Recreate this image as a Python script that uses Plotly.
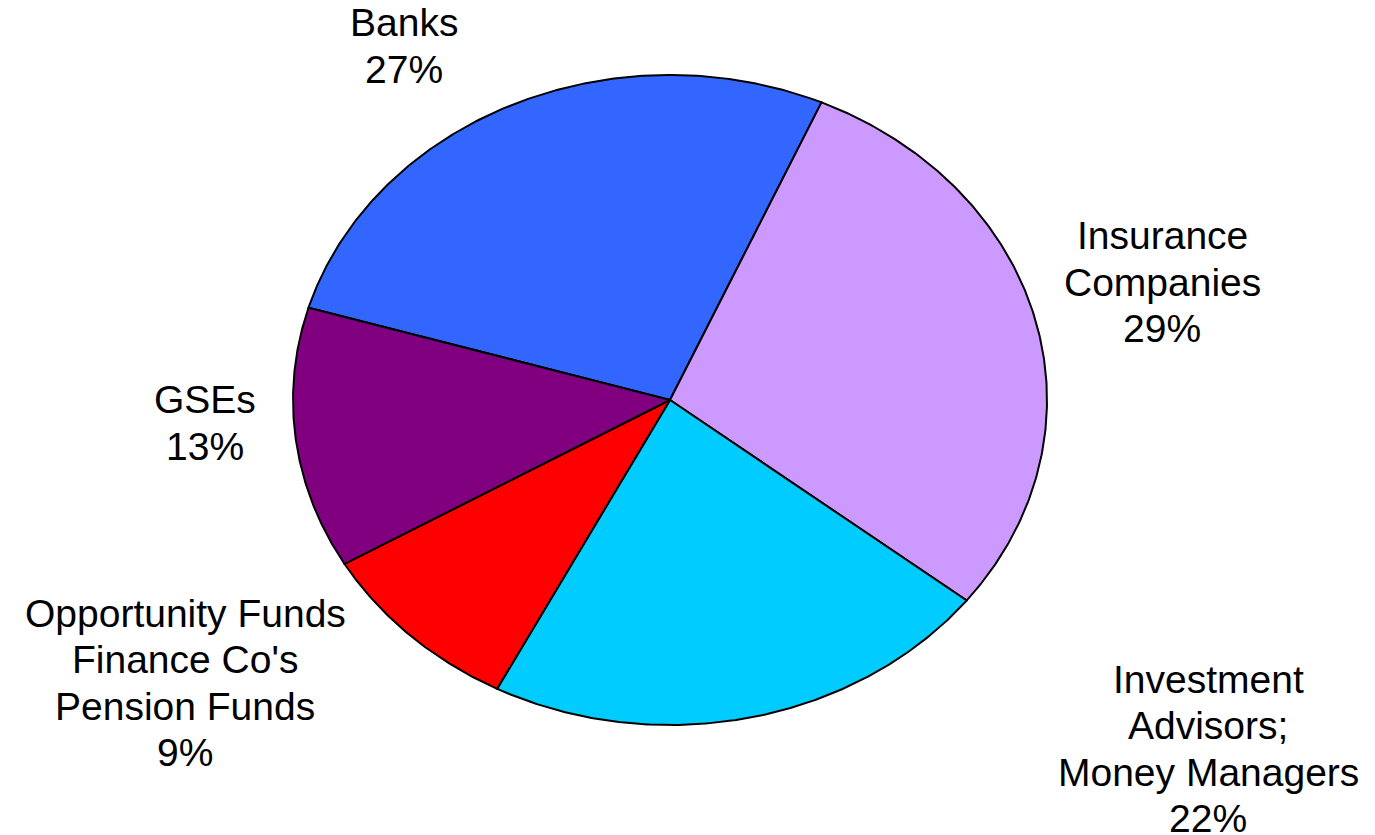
import numpy as np
import plotly.graph_objects as go

categories = ["Banks", "Insurance|Companies", "Investment|Advisors;|Money Managers",
              "Opportunity Funds|Finance Co's|Pension Funds", "GSEs"]
values = [27, 29, 22, 9, 13]
colors = ["#3366FF", "#CC99FF", "#00CCFF", "#FF0000", "#800080"]
label_pos = [(404, 46), (1162, 282), (1208, 749), (185, 683), (205, 423)]

W, H = 1375, 835
OFF = 8
cx, cy, rx, ry = 670, 400, 377, 325
start_deg = -73.5  # clockwise from top
line_gap = 46.5

fig = go.Figure()
total = sum(values)
a0 = start_deg
for cat, v, col in zip(categories, values, colors):
    a1 = a0 + 360.0 * v / total
    th = np.radians(np.linspace(a0, a1, 200))
    xs = np.concatenate([[cx], cx + rx * np.sin(th), [cx]])
    ys = np.concatenate([[cy], cy - ry * np.cos(th), [cy]])
    fig.add_trace(go.Scatter(x=xs, y=ys, fill="toself", fillcolor=col, mode="lines",
                             line=dict(color="black", width=2), hoverinfo="skip",
                             showlegend=False))
    a0 = a1

for cat, v, (lx, ly) in zip(categories, values, label_pos):
    lines = cat.split("|") + [f"{v}%"]
    n = len(lines)
    for i, t in enumerate(lines):
        fig.add_annotation(x=lx, y=ly + (i - (n - 1) / 2) * line_gap, text=t,
                           showarrow=False, xanchor="center", yanchor="middle",
                           font=dict(family="Liberation Sans, Arial", size=39, color="black"))

fig.update_xaxes(range=[OFF, W + OFF], visible=False)
fig.update_yaxes(range=[H + OFF, OFF], visible=False)
fig.update_layout(width=W, height=H, margin=dict(l=0, r=0, t=0, b=0),
                  paper_bgcolor="white", plot_bgcolor="white")
fig.write_html("out.html")
